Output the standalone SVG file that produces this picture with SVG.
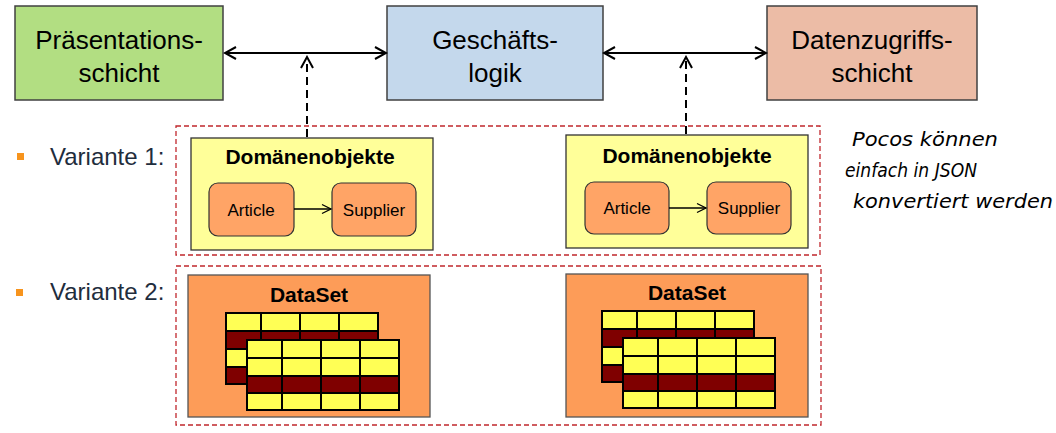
<svg xmlns="http://www.w3.org/2000/svg" xmlns:xlink="http://www.w3.org/1999/xlink" width="1056" height="433" viewBox="0 0 1056 433">
<style>
.layer{stroke:#404040;stroke-width:1.5}
.lt{font-family:"Liberation Sans",Arial,sans-serif;font-size:26px;fill:#000;text-anchor:middle}
.var{font-family:"Liberation Sans",Arial,sans-serif;font-size:24px;fill:#1f2d3d}
.bul{fill:#f7941d}
.group{fill:none;stroke:#c0272d;stroke-width:1.3;stroke-dasharray:5,3}
.dom{fill:#ffff99;stroke:#333;stroke-width:1.3}
.title{font-family:"Liberation Sans",Arial,sans-serif;font-weight:bold;font-size:21px;fill:#000;text-anchor:middle}
.cls{fill:#ffa466;stroke:#333;stroke-width:1.2}
.ct{font-family:"Liberation Sans",Arial,sans-serif;font-size:17px;fill:#000;text-anchor:middle}
.ds{fill:#fd9c58;stroke:#555;stroke-width:1.3}
.y{fill:#ffff55;stroke:#000;stroke-width:2}
.r{fill:#7f0000;stroke:#000;stroke-width:2}
.conn{stroke:#000;stroke-width:2;fill:none}
.dash{stroke-dasharray:8,5}
.thin{stroke:#000;stroke-width:1.3;fill:none}
.hand{font-family:"DejaVu Sans",sans-serif;font-style:italic;font-weight:300;font-size:19px;fill:#000}
</style>
<defs>
<marker id="ah" markerUnits="userSpaceOnUse" markerWidth="14" markerHeight="14" refX="12" refY="7" orient="auto-start-reverse" viewBox="0 0 14 14">
<path d="M1,1 L12,7 L1,13" fill="none" stroke="#000" stroke-width="2" stroke-dasharray="none"/>
</marker>
<marker id="ahs" markerUnits="userSpaceOnUse" markerWidth="12" markerHeight="12" refX="10" refY="6" orient="auto" viewBox="0 0 12 12">
<path d="M1,1.5 L10,6 L1,10.5" fill="none" stroke="#000" stroke-width="1.3"/>
</marker>
<g id="tables">
<g>
<rect class="y" x="0" y="0" width="35" height="18"/><rect class="y" x="35" y="0" width="39" height="18"/><rect class="y" x="74" y="0" width="39" height="18"/><rect class="y" x="113" y="0" width="39" height="18"/>
<rect class="r" x="0" y="18" width="35" height="18"/><rect class="r" x="35" y="18" width="39" height="18"/><rect class="r" x="74" y="18" width="39" height="18"/><rect class="r" x="113" y="18" width="39" height="18"/>
<rect class="y" x="0" y="36" width="35" height="18"/><rect class="y" x="35" y="36" width="39" height="18"/><rect class="y" x="74" y="36" width="39" height="18"/><rect class="y" x="113" y="36" width="39" height="18"/>
<rect class="r" x="0" y="54" width="35" height="17"/><rect class="r" x="35" y="54" width="39" height="17"/><rect class="r" x="74" y="54" width="39" height="17"/><rect class="r" x="113" y="54" width="39" height="17"/>
</g>
<g transform="translate(21,27)">
<rect class="y" x="0" y="0" width="35" height="18"/><rect class="y" x="35" y="0" width="39" height="18"/><rect class="y" x="74" y="0" width="39" height="18"/><rect class="y" x="113" y="0" width="39" height="18"/>
<rect class="y" x="0" y="18" width="35" height="18"/><rect class="y" x="35" y="18" width="39" height="18"/><rect class="y" x="74" y="18" width="39" height="18"/><rect class="y" x="113" y="18" width="39" height="18"/>
<rect class="r" x="0" y="36" width="35" height="17"/><rect class="r" x="35" y="36" width="39" height="17"/><rect class="r" x="74" y="36" width="39" height="17"/><rect class="r" x="113" y="36" width="39" height="17"/>
<rect class="y" x="0" y="53" width="35" height="17"/><rect class="y" x="35" y="53" width="39" height="17"/><rect class="y" x="74" y="53" width="39" height="17"/><rect class="y" x="113" y="53" width="39" height="17"/>
</g>
</g>
</defs>
<rect width="1056" height="433" fill="#fff"/>

<g id="praesentation">
<rect class="layer" x="15" y="6" width="208" height="94" fill="#b2de82"/>
<text class="lt" x="119" y="49">Präsentations-</text>
<text class="lt" x="119" y="82">schicht</text>
</g>
<g id="geschaeftslogik">
<rect class="layer" x="387" y="6" width="216" height="94" fill="#c4d8ec"/>
<text class="lt" x="495" y="49">Geschäfts-</text>
<text class="lt" x="495" y="82">logik</text>
</g>
<g id="datenzugriff">
<rect class="layer" x="767" y="6" width="210" height="94" fill="#ecbca6"/>
<text class="lt" x="872" y="49">Datenzugriffs-</text>
<text class="lt" x="872" y="82">schicht</text>
</g>

<g id="variante1-label">
<rect class="bul" x="17" y="153" width="7" height="7"/>
<text class="var" x="50" y="165">Variante 1:</text>
</g>
<g id="variante2-label">
<rect class="bul" x="16" y="289" width="7" height="7"/>
<text class="var" x="50" y="300">Variante 2:</text>
</g>

<g id="variante1">
<rect class="group" x="176" y="126" width="644" height="129"/>
</g>
<g id="variante2">
<rect class="group" x="176" y="266" width="645" height="159"/>
</g>

<g id="domaenen1">
<rect class="dom" x="191" y="138" width="242" height="112"/>
<text class="title" x="310" y="164">Domänenobjekte</text>
<g id="article1"><rect class="cls" x="209" y="183" width="85" height="53" rx="9"/><text class="ct" x="251" y="216">Article</text></g>
<g id="supplier1"><rect class="cls" x="332" y="183" width="84" height="53" rx="9"/><text class="ct" x="374" y="216">Supplier</text></g>
</g>
<g id="domaenen2">
<rect class="dom" x="566" y="135" width="242" height="113"/>
<text class="title" x="687" y="163">Domänenobjekte</text>
<g id="article2"><rect class="cls" x="585" y="182" width="84" height="52" rx="9"/><text class="ct" x="627" y="214">Article</text></g>
<g id="supplier2"><rect class="cls" x="707" y="182" width="84" height="52" rx="9"/><text class="ct" x="749" y="214">Supplier</text></g>
</g>

<g id="dataset1">
<rect class="ds" x="188" y="275" width="242" height="142"/>
<text class="title" x="309" y="302" font-size="20">DataSet</text>
<use xlink:href="#tables" transform="translate(226,313)"/>
</g>
<g id="dataset2">
<rect class="ds" x="566" y="274" width="242" height="143"/>
<text class="title" x="687" y="300" font-size="20">DataSet</text>
<use xlink:href="#tables" transform="translate(602,311)"/>
</g>

<g id="connectors">
<line class="conn" x1="225" y1="53" x2="386" y2="53" marker-start="url(#ah)" marker-end="url(#ah)"/>
<line class="conn" x1="604" y1="53" x2="766" y2="53" marker-start="url(#ah)" marker-end="url(#ah)"/>
<line class="conn dash" x1="307" y1="137" x2="307" y2="57" marker-end="url(#ah)"/>
<line class="conn dash" x1="686" y1="134" x2="686" y2="57" marker-end="url(#ah)"/>
<line class="thin" x1="294" y1="209" x2="331" y2="209" marker-end="url(#ahs)"/>
<line class="thin" x1="669" y1="208" x2="706" y2="208" marker-end="url(#ahs)"/>
</g>

<g id="notiz">
<text class="hand" x="852" y="146" textLength="146" lengthAdjust="spacingAndGlyphs">Pocos können</text>
<text class="hand" x="845" y="177" textLength="132" lengthAdjust="spacingAndGlyphs">einfach in JSON</text>
<text class="hand" x="853" y="208" textLength="200" lengthAdjust="spacingAndGlyphs">konvertiert werden</text>
</g>
</svg>
